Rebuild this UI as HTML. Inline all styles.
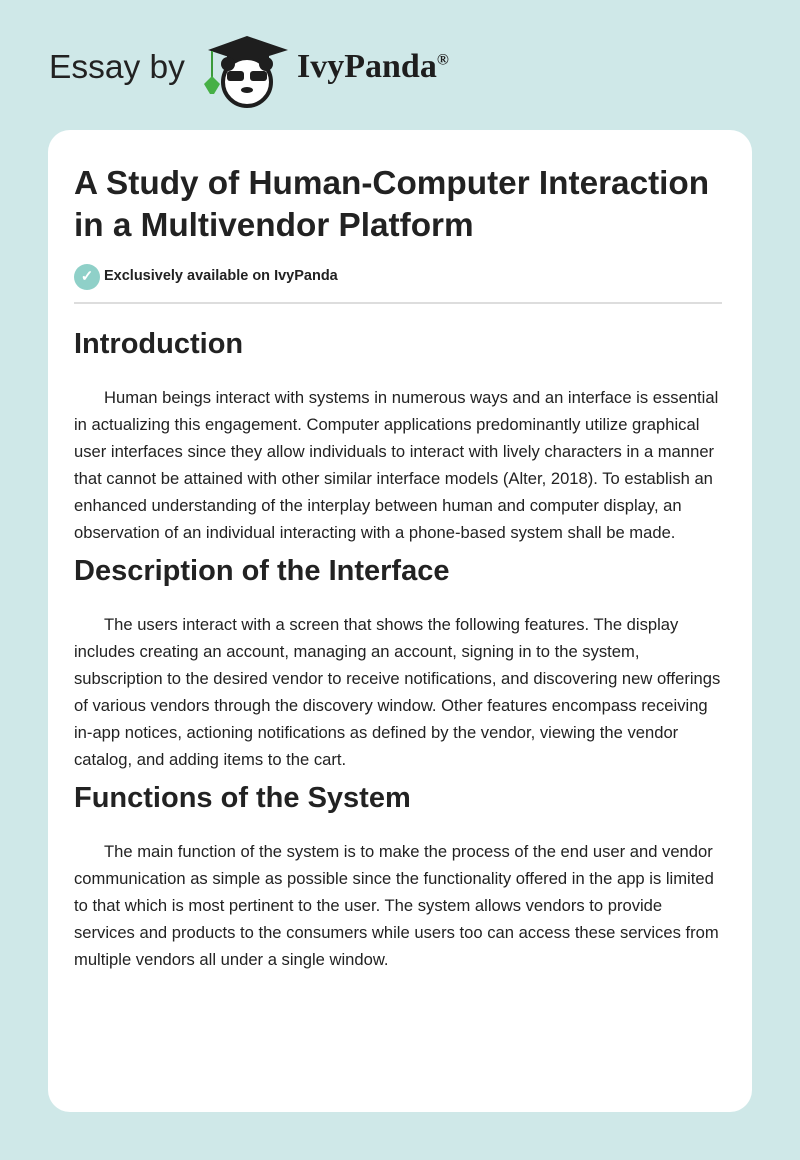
<!DOCTYPE html>
<html><head><meta charset="utf-8"><style>
*{margin:0;padding:0;box-sizing:border-box}
body{width:800px;height:1160px;background:#cfe8e8;font-family:"Liberation Sans",Arial,sans-serif;color:#222;position:relative;overflow:hidden}
.logo{position:absolute;top:0;left:0;width:800px;height:130px}
.card{position:absolute;left:48px;top:130px;width:704px;height:982px;background:#fff;border-radius:22px}
.t{position:absolute;left:74px;width:652px}
h1{font-size:33.3px;font-weight:bold;line-height:42px;color:#222}
h2{font-size:29px;font-weight:bold;color:#222;line-height:34px}
p{font-size:16.6px;line-height:27px;text-indent:30px;color:#222}
</style></head><body>
<div class="logo">
<div style="position:absolute;left:49px;top:49px;font-size:33.5px;color:#222;">Essay by</div>
<svg style="position:absolute;left:200px;top:36px" width="95" height="72" viewBox="0 0 95 72">
<polygon points="8,14 47,0 88,14 47,27" fill="#1e1e1e"/>
<rect x="27" y="14" width="42" height="14" fill="#1e1e1e"/>
<line x1="12" y1="15" x2="12" y2="42" stroke="#3a9a3a" stroke-width="2"/>
<path d="M4,48 L12,40 L20,48 L14,58 L10,58 Z" fill="#46b046"/>
<circle cx="47" cy="46" r="24" fill="#fff" stroke="#1e1e1e" stroke-width="4"/>
<circle cx="28" cy="28" r="7" fill="#1e1e1e"/><circle cx="66" cy="28" r="7" fill="#1e1e1e"/>
<rect x="27" y="35" width="17" height="10" rx="3" fill="#1e1e1e"/><rect x="50" y="35" width="17" height="10" rx="3" fill="#1e1e1e"/>
<ellipse cx="47" cy="54" rx="6" ry="3" fill="#1e1e1e"/>
</svg>
<div style="position:absolute;left:297px;top:48px;font-family:'Liberation Serif',serif;font-weight:bold;font-size:34px;color:#1e1e1e;">IvyPanda<sup style="font-size:16px">®</sup></div>
</div>
<div class="card"></div>
<div class="t" style="top:163px"><h1>A Study of Human-Computer Interaction in a Multivendor Platform</h1></div>
<div style="position:absolute;left:74px;top:264px;width:26px;height:26px;border-radius:50%;background:#8fd0c8;color:#fff;font-size:15px;text-align:center;line-height:26px;font-weight:bold">✓</div>
<div style="position:absolute;left:104px;top:268px;font-size:14.5px;font-weight:bold;color:#222">Exclusively available on IvyPanda</div>
<div style="position:absolute;left:74px;top:302px;width:648px;height:2px;background:#ddd"></div>
<div class="t" style="top:327px"><h2>Introduction</h2></div>
<div class="t" style="top:384px"><p>Human beings interact with systems in numerous ways and an interface is essential in actualizing this engagement. Computer applications predominantly utilize graphical user interfaces since they allow individuals to interact with lively characters in a manner that cannot be attained with other similar interface models (Alter, 2018). To establish an enhanced understanding of the interplay between human and computer display, an observation of an individual interacting with a phone-based system shall be made.</p></div>
<div class="t" style="top:554px"><h2>Description of the Interface</h2></div>
<div class="t" style="top:611px"><p>The users interact with a screen that shows the following features. The display includes creating an account, managing an account, signing in to the system, subscription to the desired vendor to receive notifications, and discovering new offerings of various vendors through the discovery window. Other features encompass receiving in-app notices, actioning notifications as defined by the vendor, viewing the vendor catalog, and adding items to the cart.</p></div>
<div class="t" style="top:781px"><h2>Functions of the System</h2></div>
<div class="t" style="top:838px"><p>The main function of the system is to make the process of the end user and vendor communication as simple as possible since the functionality offered in the app is limited to that which is most pertinent to the user. The system allows vendors to provide services and products to the consumers while users too can access these services from multiple vendors all under a single window.</p></div>
</body></html>
